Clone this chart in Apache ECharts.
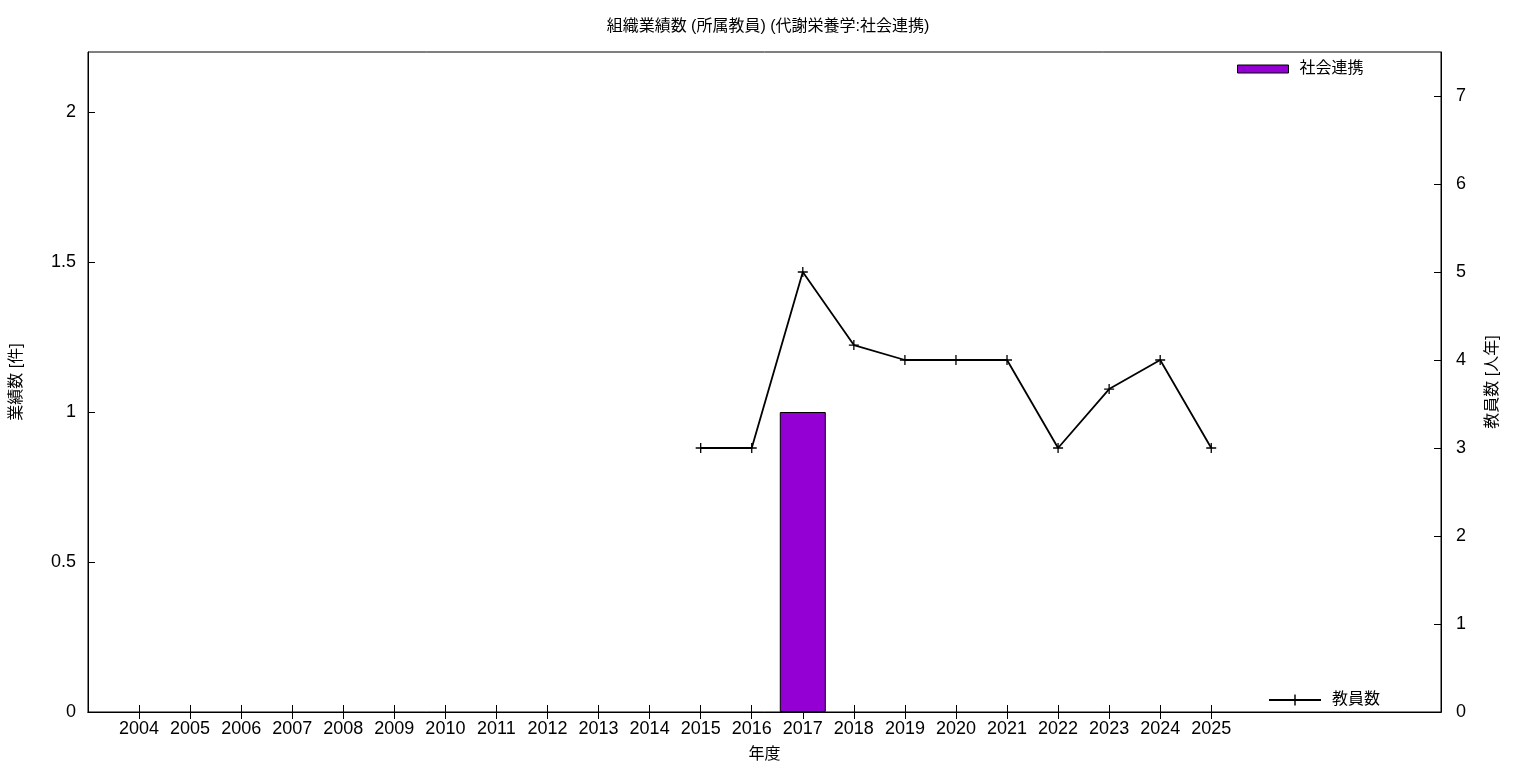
<!DOCTYPE html>
<html>
<head>
<meta charset="utf-8">
<script src="https://cdn.jsdelivr.net/npm/echarts@6/dist/echarts.min.js"></script>
<style>html,body{margin:0;padding:0;background:#fff}#c{width:1536px;height:768px}</style>
</head>
<body>
<div id="c"></div>
<script>
const years = [2004,2005,2006,2007,2008,2009,2010,2011,2012,2013,2014,2015,2016,2017,2018,2019,2020,2021,2022,2023,2024,2025];
const barValues = [0,0,0,0,0,0,0,0,0,0,0,0,0,1,0,0,0,0,0,0,0,0];
const staffValues = [null,null,null,null,null,null,null,null,null,null,null,3,3,5,4.17,4,4,4,3,3.67,4,3];
const leftTicks = [0,0.5,1,1.5,2];
const rightTicks = [0,1,2,3,4,5,6,7];

const FONT = '"Liberation Sans", "Noto Sans CJK JP", sans-serif';
const chart = echarts.init(document.getElementById('c'), null, {renderer:'canvas'});
const plus = 'path://M0,4.35H10V5.65H0Z M4.35,0H5.65V10H4.35Z';

chart.setOption({
  animation: false,
  textStyle: {fontFamily: FONT, color: '#000'},
  title: {
    text: '組織業績数 (所属教員) (代謝栄養学:社会連携)',
    left: 'center', top: 14,
    textStyle: {fontFamily: FONT, fontSize: 16, fontWeight: 'normal', color: '#000'}
  },
  grid: {left: 88, right: 95, top: 52, bottom: 55, show: true, borderColor: '#000', borderWidth: 1, backgroundColor: 'transparent'},
  legend: [
    {
      data: ['社会連携'], left: 1237, top: 61, orient: 'vertical',
      itemWidth: 51, itemHeight: 8, icon: 'rect', padding: 0,
      itemStyle: {borderColor: '#000', borderWidth: 1},
      textStyle: {fontFamily: FONT, fontSize: 16, color: '#000', padding: [0,0,0,6]}
    },
    {
      data: ['教員数'], left: 1268, top: 692, orient: 'vertical',
      itemWidth: 52, itemHeight: 14, padding: 0,
      textStyle: {fontFamily: FONT, fontSize: 16, color: '#000', padding: [0,0,0,6]}
    }
  ],
  xAxis: [
    {
      type: 'value', min: 2003, max: 2029.5, position: 'bottom',
      name: '年度', nameLocation: 'middle', nameGap: 35,
      nameTextStyle: {fontFamily: FONT, fontSize: 16, color: '#000'},
      axisLine: {show: true, lineStyle: {color: '#000', width: 1}},
      axisTick: {show: true, inside: true, length: 7, customValues: years, lineStyle: {color: '#000'}},
      axisLabel: {customValues: years, fontSize: 18, color: '#000', margin: 8, fontFamily: FONT, formatter: v => String(v)},
      splitLine: {show: false}
    },
    {
      type: 'value', min: 2003, max: 2029.5, position: 'top',
      axisLine: {show: true, lineStyle: {color: '#000', width: 1}},
      axisTick: {show: true, inside: true, length: 7, customValues: years, lineStyle: {color: '#000'}},
      axisLabel: {show: false},
      splitLine: {show: false}
    }
  ],
  yAxis: [
    {
      type: 'value', min: 0, max: 2.2, interval: 0.5, position: 'left',
      name: '業績数 [件]', nameLocation: 'middle', nameGap: 63, nameRotate: 90,
      nameTextStyle: {fontFamily: FONT, fontSize: 16, color: '#000'},
      axisLine: {show: true, lineStyle: {color: '#000', width: 1}},
      axisTick: {show: true, inside: true, length: 7, customValues: leftTicks, lineStyle: {color: '#000'}},
      axisLabel: {customValues: leftTicks, fontSize: 18, color: '#000', margin: 12, fontFamily: FONT},
      splitLine: {show: false}
    },
    {
      type: 'value', min: 0, max: 7.5, interval: 1, position: 'right',
      name: '教員数 [人年]', nameLocation: 'middle', nameGap: 44, nameRotate: 90,
      nameTextStyle: {fontFamily: FONT, fontSize: 16, color: '#000'},
      axisLine: {show: true, lineStyle: {color: '#000', width: 1}},
      axisTick: {show: true, inside: true, length: 7, customValues: rightTicks, lineStyle: {color: '#000'}},
      axisLabel: {customValues: rightTicks, fontSize: 18, color: '#000', margin: 15, fontFamily: FONT},
      splitLine: {show: false}
    }
  ],
  series: [
    {
      name: '社会連携', type: 'bar', xAxisIndex: 0, yAxisIndex: 0,
      barWidth: 46,
      itemStyle: {color: '#9400D3', borderColor: '#000', borderWidth: 1},
      data: years.map((y, i) => barValues[i] ? [y, barValues[i]] : null).filter(d => d)
    },
    {
      name: '教員数', type: 'line', xAxisIndex: 0, yAxisIndex: 1,
      symbol: plus, symbolSize: 10, showSymbol: true,
      lineStyle: {color: '#000', width: 1.8},
      itemStyle: {color: '#000'},
      data: years.map((y, i) => [y, staffValues[i]]).filter(d => d[1] !== null)
    }
  ]
});
</script>
</body>
</html>
